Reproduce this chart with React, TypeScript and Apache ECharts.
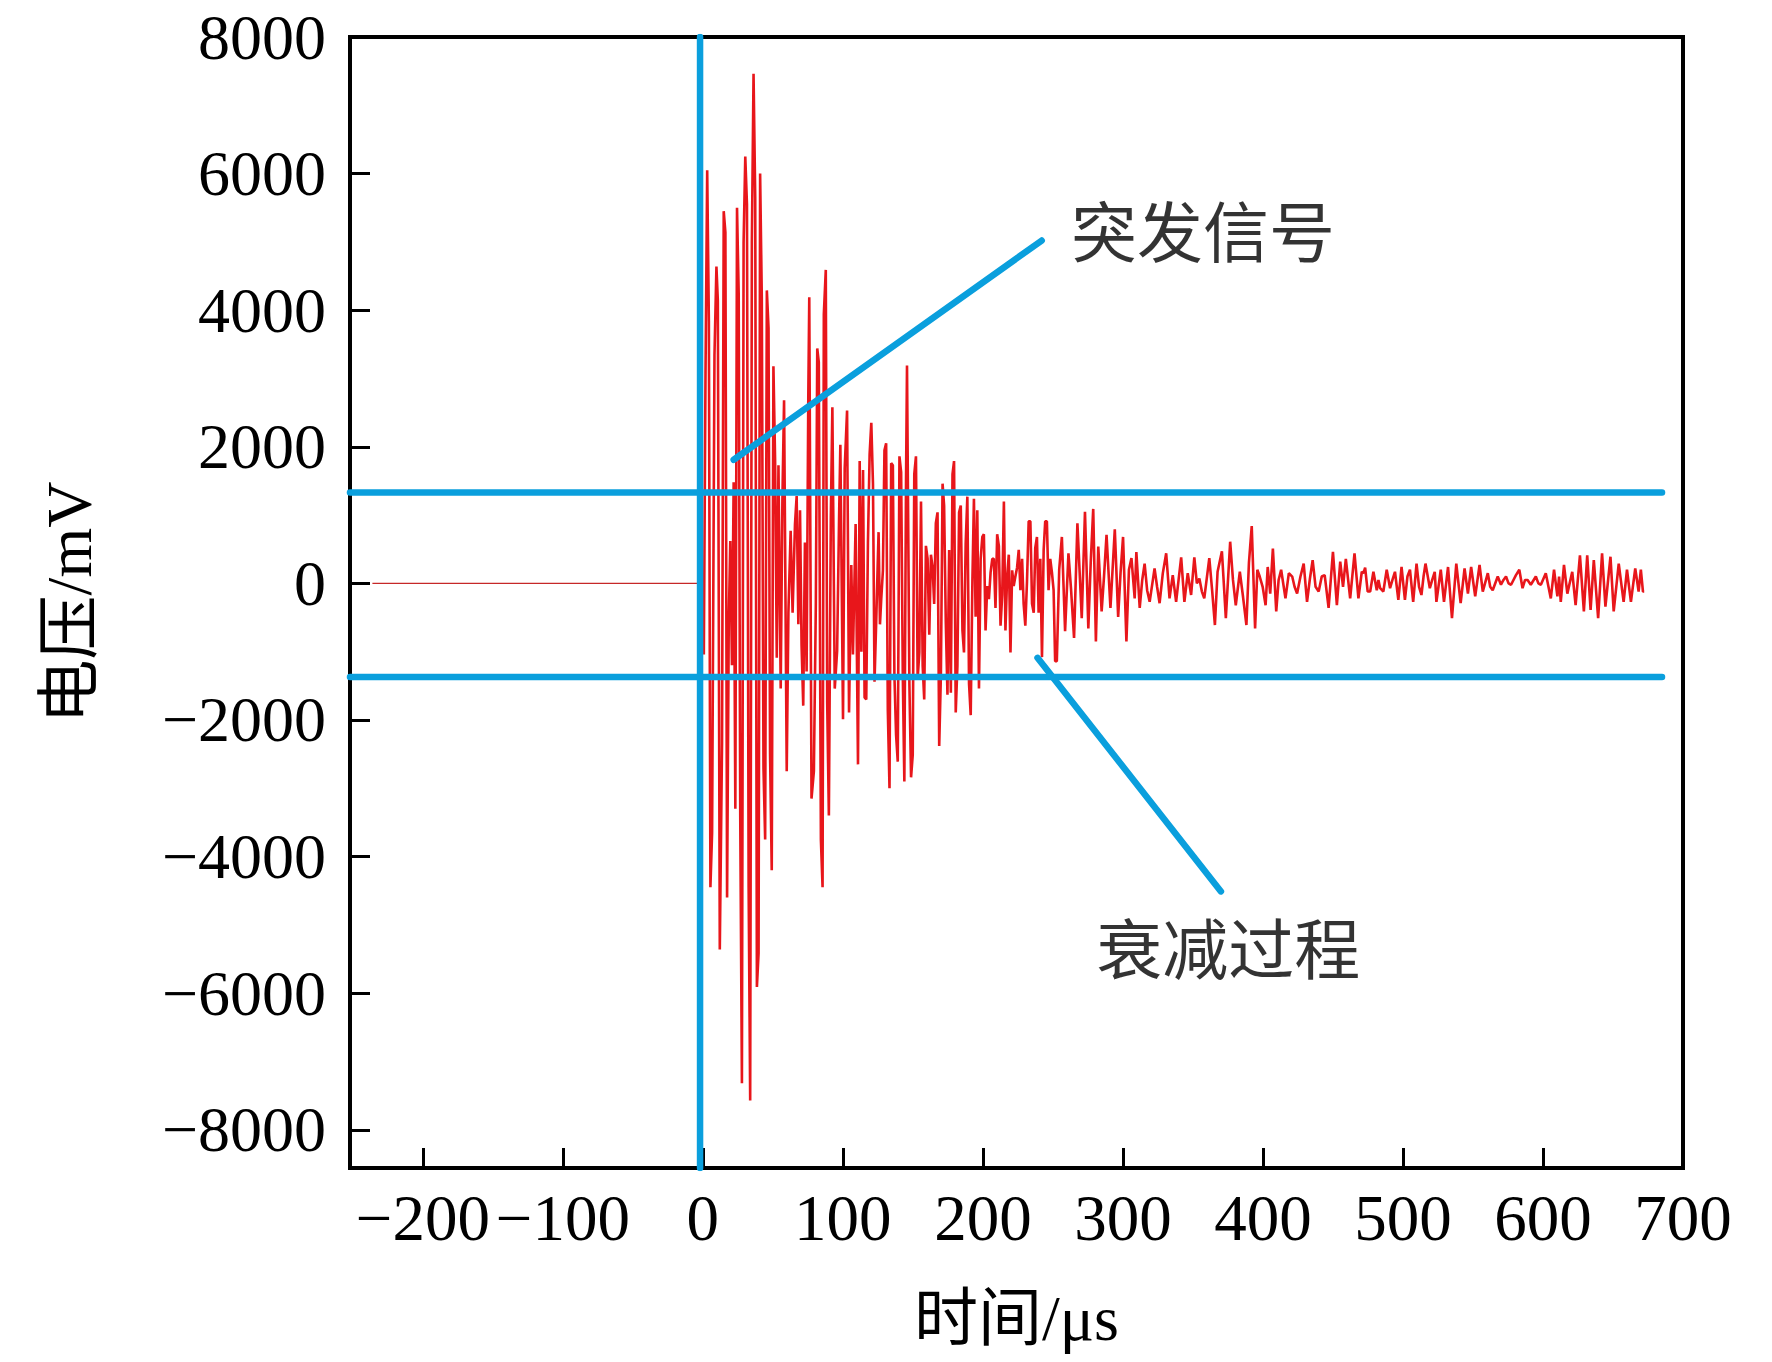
import { useEffect, useRef } from 'react'
import * as echarts from 'echarts'

// axis ticks
const xTicks = [-200, -100, 0, 100, 200, 300, 400, 500, 600, 700]
const yTicks = [-8000, -6000, -4000, -2000, 0, 2000, 4000, 6000, 8000]

// pre-trigger baseline (µs, mV)
const preTrigger = [
  [-236, 0],
  [0, 0],
]

// burst, 0-111 µs
const burstSignal = [
  [0, 0], [0.7, -1040], [1.9, 3080], [3.1, 6050], [4.3, 3840], [5.4, -4450], [6.6, -3650], [8.3, 3340],
  [9.7, 4640], [10.7, 4140], [12.1, -5360], [13.7, -2340], [14.9, 5450], [16.1, 5140], [17.3, -4600],
  [18.5, -580], [19.6, 620], [20.8, -1200], [22.0, 1480], [23.2, -3300], [24.4, 5500], [25.6, 4240],
  [26.7, -3400], [27.9, -7320], [29.1, 4990], [30.3, 6250], [31.5, 5550], [32.7, -4450], [33.8, -7570],
  [35.0, 4990], [36.2, 7460], [37.4, 5650], [38.6, -5910], [39.8, -5410], [40.9, 6000], [42.1, 4190],
  [43.3, -2700], [44.5, -3750], [45.7, 4290], [46.9, 3740], [48.0, -2490], [49.2, -4200], [50.4, 3180],
  [51.6, 1800], [52.8, -1090], [54.0, 1730], [55.6, -1540], [56.8, 1200], [58.0, 2680], [59.9, -2750],
  [61.1, -430], [62.7, 770], [64.1, -430], [65.8, 870], [67.0, 1280], [68.2, -600], [69.4, 1070],
  [70.5, -900], [71.7, -1790], [72.9, 600], [74.1, -1290], [75.3, 2730], [76.0, 4190], [77.6, -3150],
  [79.3, -2750], [80.7, -280], [81.7, 3440], [82.8, 3240], [84.3, -3750], [85.5, -4450], [86.4, 3940],
  [87.8, 4590], [88.8, -1740], [90.0, -3400], [91.4, 970], [92.5, 2580], [94.2, -1540], [95.9, -990],
  [97.3, 970], [98.2, 2030], [100.1, -1990], [101.3, 1680], [103.0, 2530], [104.4, -1890], [106.0, 270],
  [107.2, -1040], [109.1, 870], [110.8, -2650],
]

// ring-down, 111-252 µs
const ringdownSignal = [
  [112.0, 1790], [113.2, -1000], [114.4, 1660], [115.5, -1670], [116.7, -1700], [117.9, 600], [119.1, 1890],
  [120.3, 2350], [121.5, 1460], [122.6, -1440], [123.8, -560], [125.5, 750], [126.5, -600], [127.4, -230],
  [128.6, 190], [129.7, 1950], [130.9, 2050], [132.1, -1860], [133.3, -3000], [134.5, 1760], [135.7, 1730],
  [136.8, -1340], [138.0, -2220], [139.2, -2610], [140.4, 1860], [141.6, 1630], [142.8, -1340], [143.9, -2900],
  [145.1, 1500], [145.8, 3190], [147.5, -1470], [148.7, -2840], [149.9, -2510], [151.0, 1600], [152.2, 1860],
  [153.4, -1400], [154.6, -1010], [155.8, 1200], [157.0, -1210], [158.1, -1700], [159.3, 550], [160.5, 360],
  [161.7, -750], [162.9, 420], [164.1, 230], [165.2, -300], [166.4, 880], [167.6, 1040], [168.8, -2380],
  [170.0, -1340], [171.2, 1460], [172.3, 1140], [173.5, -560], [174.7, -1630], [175.9, 490], [177.1, -1600],
  [178.3, 1600], [179.4, 1790], [180.6, -1890], [181.8, -1210], [183.0, 1040], [184.2, 1140], [185.4, -690],
  [186.5, -1010], [187.7, 580], [188.9, 1270], [190.1, -1470], [191.3, -1930], [192.5, 30], [193.6, 1240],
  [194.8, -490], [196.0, 1070], [197.2, -1540], [198.4, 360], [199.6, 680], [200.7, 720], [201.9, -690],
  [203.1, -40], [204.3, -230], [205.5, 160], [206.7, 360], [207.8, 360], [209.0, -360], [210.2, 720],
  [211.4, 550], [212.6, -620], [213.8, -170], [215.0, 1200], [216.1, -690], [217.3, 100], [218.5, 420],
  [219.7, -1010], [220.9, 190], [222.0, -40], [223.2, 100], [224.4, 230], [225.6, 490], [226.8, -100],
  [228.0, 360], [229.1, -300], [230.3, -620], [231.5, 30], [232.7, 910], [233.9, 910], [235.1, -300],
  [236.3, -430], [237.4, 520], [238.6, 680], [239.8, -430], [241.0, 360], [242.2, -1080], [243.4, 490],
  [244.5, 910], [245.7, 910], [246.9, -100], [248.1, 360], [249.3, 160], [250.5, -100], [251.6, -1140],
]

// decay, 252-472 µs
const decaySignal = [
  [252.8, -1140], [254.5, 200], [256.4, 680], [258.7, -700], [261.1, 440], [263.0, -100], [265.1, -800],
  [267.5, 880], [270.6, -510], [272.9, 1050], [275.3, -660], [277.0, 300], [278.8, 1090], [280.7, -850],
  [282.4, 540], [284.8, -410], [286.5, 100], [288.3, 710], [291.1, -360], [294.2, 790], [296.6, -490],
  [298.3, 150], [300.1, 680], [302.5, -850], [304.3, 200], [306.1, 370], [308.4, -220], [309.6, 460],
  [312.0, -360], [313.8, 50], [315.5, 290], [317.3, -100], [319.1, -270], [322.6, 220], [324.4, -50],
  [326.2, -290], [328.5, 150], [330.9, 440], [333.3, -220], [335.6, 120], [338.0, -270], [339.8, 60],
  [341.6, 380], [343.9, -270], [346.3, 150], [348.7, -170], [351.0, 380], [352.8, 0], [354.6, 70],
  [356.4, -120], [358.1, -220], [361.7, 370], [363.7, -100], [365.7, -610], [367.6, 170], [370.7, 470],
  [373.5, -510], [376.6, 610], [378.6, 50], [380.6, -320], [383.5, 170], [385.8, -200], [388.2, -610],
  [390.0, 300], [392.0, 840], [394.4, -660], [396.0, 200], [397.7, 100], [399.8, -50], [401.9, -320],
  [403.4, 240], [405.2, -150], [407.1, 510], [409.5, -410], [411.2, 50], [413.0, 200], [416.1, -220],
  [418.5, 150], [420.9, 100], [422.6, -50], [424.4, -150], [426.8, 100], [429.1, 290], [431.5, -270],
  [433.5, 60], [435.5, 340], [437.6, -50], [439.8, -120], [442.0, 100], [444.1, 120], [446.9, -360],
  [450.0, 460], [452.8, -320], [455.2, 320], [457.2, -50], [459.2, 360], [462.3, -220], [465.4, 440],
  [468.2, -220], [470.6, 170], [471.8, 150],
]

// tail, 472-672 µs
const tailSignal = [
  [473.0, 230], [474.8, -120], [476.6, -120], [478.9, 170], [481.3, -100], [482.5, 50], [483.7, -70],
  [486.0, -120], [488.4, 200], [490.8, -70], [492.5, 50], [494.3, 170], [496.7, -240], [499.0, 240],
  [501.4, -240], [503.2, 100], [505.0, 200], [507.3, -270], [509.7, 290], [511.5, -50], [513.2, -170],
  [514.7, 100], [516.1, 290], [519.2, -70], [520.9, 50], [522.7, 170], [523.9, -270], [527.0, 200],
  [529.3, -270], [532.2, 240], [535.0, -510], [538.1, 290], [541.2, -290], [544.0, 220], [546.4, -150],
  [548.7, 240], [551.6, -190], [554.7, 270], [557.0, -120], [560.6, 150], [562.3, -50], [564.1, -100],
  [567.7, 100], [570.0, -20], [571.8, 50], [573.6, 100], [575.4, 0], [577.2, -20], [580.7, 120],
  [583.1, 200], [585.4, -70], [587.2, 50], [589.0, 50], [591.3, -20], [594.9, 100], [596.7, 0],
  [598.5, -20], [602.0, 150], [605.6, -220], [607.9, 200], [610.3, -190], [611.5, 100], [612.7, -270],
  [615.0, 270], [617.4, -150], [620.9, 170], [623.3, -320], [626.4, 410], [629.2, -410], [631.6, 410],
  [634.0, -390], [636.3, 340], [639.4, -510], [642.2, 440], [644.6, -340], [648.2, 390], [650.5, -410],
  [654.1, 290], [657.6, -270], [660.0, 200], [662.8, -270], [665.9, 220], [668.3, -120], [669.9, 200],
  [671.4, -120], [672.3, -120],
]

// threshold band and trigger marker
const thresholdLevels = [1330, -1370]
const thresholdSpan = [-252, 685]
const triggerTime = -2

// annotation pointers (data coords)
const burstPointer = [
  [22, 1810],
  [242, 5020],
]
const decayPointer = [
  [239, -1090],
  [370, -4510],
]
const notes = [
  { name: '突发信号', value: [263, 5210] },
  { name: '衰减过程', value: [281, -5290] },
]

const X_MIN = -252
const X_MAX = 700
const Y_MIN = -8560
const Y_MAX = 8000

const SERIF = "'Liberation Serif', 'Times New Roman', 'Noto Sans CJK SC', serif"
const BLUE = '#0a9fdd'

const fmt = (v: number) => (v < 0 ? '\u2212' + Math.abs(v) : String(v))

const blueLine = (data: number[][]) => ({
  type: 'line',
  data,
  symbol: 'none',
  silent: true,
  z: 5,
  lineStyle: { color: BLUE, width: 6.5, cap: 'round' },
})

export default function App() {
  const chartRef = useRef<HTMLDivElement>(null)

  useEffect(() => {
    document.body.style.margin = '0'
    if (!chartRef.current) return
    const chart = echarts.init(chartRef.current, undefined, { renderer: 'svg' })

    const signal = [...burstSignal, ...ringdownSignal, ...decaySignal, ...tailSignal]

    chart.setOption({
      animation: false,
      backgroundColor: '#fff',
      grid: {
        left: 350,
        right: 89,
        top: 37,
        bottom: 194,
        show: true,
        borderColor: '#000',
        borderWidth: 4,
      },
      xAxis: {
        type: 'value',
        min: X_MIN,
        max: X_MAX,
        name: '时间/μs',
        nameLocation: 'middle',
        nameGap: 118,
        nameTextStyle: { fontFamily: SERIF, fontSize: 64, color: '#000' },
        axisLine: { show: true, onZero: false, lineStyle: { color: '#000', width: 4 } },
        axisTick: {
          show: true,
          inside: true,
          length: 20,
          customValues: xTicks,
          lineStyle: { color: '#000', width: 3 },
        },
        axisLabel: {
          customValues: xTicks,
          formatter: fmt,
          fontFamily: SERIF,
          fontSize: 65,
          lineHeight: 56,
          color: '#000',
          margin: 22,
        },
        splitLine: { show: false },
      },
      yAxis: {
        type: 'value',
        min: Y_MIN,
        max: Y_MAX,
        name: '电压/mV',
        nameLocation: 'middle',
        nameGap: 249,
        nameTextStyle: { fontFamily: SERIF, fontSize: 64, color: '#000' },
        axisLine: { show: true, onZero: false, lineStyle: { color: '#000', width: 4 } },
        axisTick: {
          show: true,
          inside: true,
          length: 20,
          customValues: yTicks,
          lineStyle: { color: '#000', width: 3 },
        },
        axisLabel: {
          customValues: yTicks,
          formatter: fmt,
          fontFamily: SERIF,
          fontSize: 64,
          lineHeight: 56,
          color: '#000',
          margin: 24,
        },
        splitLine: { show: false },
      },
      series: [
        {
          type: 'line',
          data: preTrigger,
          symbol: 'none',
          silent: true,
          lineStyle: { color: '#c62828', width: 1.2 },
        },
        {
          type: 'line',
          data: signal,
          symbol: 'none',
          silent: true,
          lineStyle: { color: '#e8161b', width: 2.6 },
        },
        ...thresholdLevels.map((lvl) =>
          blueLine([
            [thresholdSpan[0], lvl],
            [thresholdSpan[1], lvl],
          ])
        ),
        blueLine([
          [triggerTime, Y_MAX],
          [triggerTime, Y_MIN],
        ]),
        blueLine(burstPointer),
        blueLine(decayPointer),
        {
          type: 'scatter',
          data: notes,
          symbolSize: 0,
          silent: true,
          z: 6,
          label: {
            show: true,
            position: 'right',
            distance: 0,
            formatter: (p: any) => p.name,
            fontFamily: "'Noto Sans CJK SC', sans-serif",
            fontWeight: 'normal',
            fontSize: 66,
            color: '#000',
          },
        },
      ],
    })

    return () => {
      chart.dispose()
    }
  }, [])

  return <div ref={chartRef} style={{ width: 1772, height: 1362 }} />
}
